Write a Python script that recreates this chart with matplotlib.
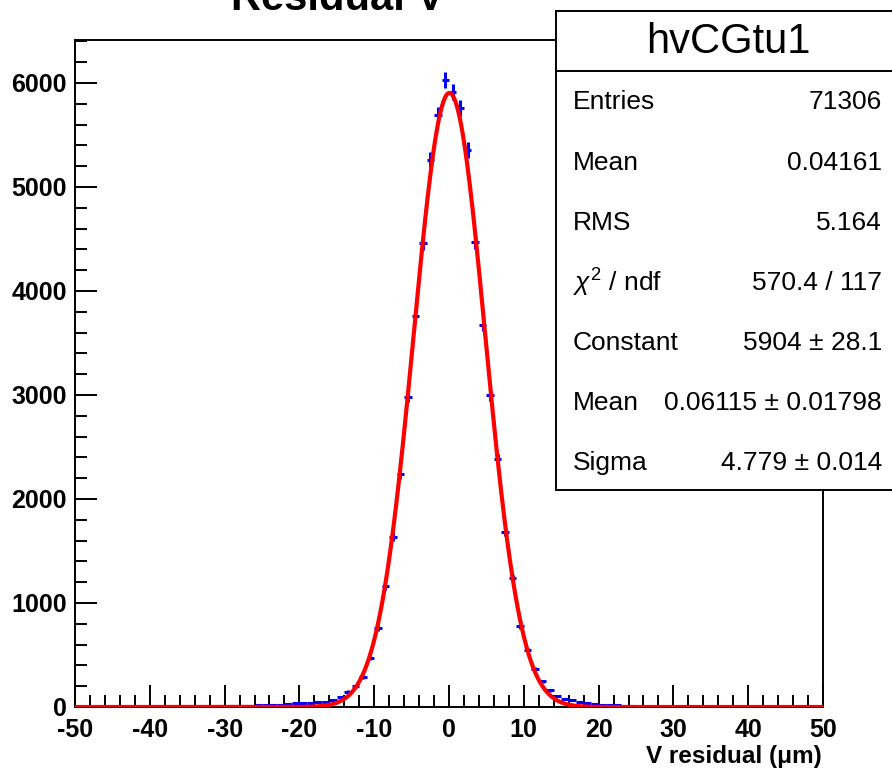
import numpy as np
import matplotlib
matplotlib.use('Agg')
import matplotlib.pyplot as plt
from matplotlib.patches import Rectangle
from matplotlib.lines import Line2D
from matplotlib.ticker import MultipleLocator

plt.rcParams['font.family'] = ['Liberation Sans', 'DejaVu Sans']
plt.rcParams['mathtext.fontset'] = 'custom'
plt.rcParams['mathtext.rm'] = 'Liberation Sans'
plt.rcParams['mathtext.it'] = 'Liberation Sans:italic'

# histogram bins (centre, content)
bin_centers = [-30.5, -29.5, -28.5, -27.5, -26.5, -25.5, -24.5, -23.5, -22.5, -21.5,
               -20.5, -19.5, -18.5, -17.5, -16.5, -15.5, -14.5, -13.5, -12.5, -11.5,
               -10.5, -9.5, -8.5, -7.5, -6.5, -5.5, -4.5, -3.5, -2.5, -1.5,
               -0.5, 0.5, 1.5, 2.5, 3.5, 4.5, 5.5, 6.5, 7.5, 8.5,
               9.5, 10.5, 11.5, 12.5, 13.5, 14.5, 15.5, 16.5, 17.5, 18.5,
               19.5, 20.5, 21.5, 22.5, 23.5, 24.5]
counts = [8, 10, 12, 10, 14, 15, 16, 18, 20, 25,
          38, 40, 42, 45, 48, 65, 95, 147, 200, 291,
          474, 762, 1163, 1638, 2237, 2984, 3760, 4460, 5260, 5692,
          6029, 5916, 5760, 5356, 4474, 3673, 3000, 2381, 1686, 1237,
          779, 548, 362, 247, 160, 106, 80, 70, 51, 40,
          25, 20, 18, 15, 12, 10]
bin_width = 1.0

# gaussian fit parameters (from the stats box)
fit_const = 5904
fit_mean = 0.06115
fit_sigma = 4.779

stat_labels = ['Entries', 'Mean', 'RMS', r'$\chi^{2}$ / ndf', 'Constant', 'Mean', 'Sigma']
stat_values = ['71306', '0.04161', '5.164', '570.4 / 117', u'5904 \u00b1 28.1',
               u'0.06115 \u00b1 0.01798', u'4.779 \u00b1 0.014']

W, H = 892, 773
fig = plt.figure(figsize=(W / 100, H / 100), dpi=100)
ax = fig.add_axes([75 / W, 1 - 707 / H, 748 / W, 667 / H])

x = np.array(bin_centers)
y = np.array(counts, dtype=float)
ax.errorbar(x, y, xerr=bin_width / 2, yerr=np.sqrt(y), fmt='none',
            ecolor='#0000ff', elinewidth=2.2, capsize=0, zorder=2)

xf = np.linspace(-50, 50, 1000)
yf = fit_const * np.exp(-0.5 * ((xf - fit_mean) / fit_sigma) ** 2)
ax.plot(xf, yf, color='#ff0000', lw=3, zorder=3, solid_capstyle='butt')

ax.set_xlim(-50, 50)
ax.set_ylim(0, 6413)
ax.xaxis.set_major_locator(MultipleLocator(10))
ax.xaxis.set_minor_locator(MultipleLocator(2))
ax.yaxis.set_major_locator(MultipleLocator(1000))
ax.yaxis.set_minor_locator(MultipleLocator(200))
ax.tick_params(which='both', direction='in', top=False, right=False, width=1.4, color='black')
ax.tick_params(which='major', length=15.5)
ax.tick_params(which='minor', length=8.5)
ax.tick_params(axis='x', which='major', pad=8, labelsize=18)
ax.tick_params(axis='y', which='major', pad=6, labelsize=18)
ax.xaxis.set_major_formatter(plt.FuncFormatter(lambda v, p: '%d' % v))
ax.yaxis.set_major_formatter(plt.FuncFormatter(lambda v, p: '%d' % v))
for lab in ax.get_xticklabels() + ax.get_yticklabels():
    lab.set_fontweight('bold')
for sp in ax.spines.values():
    sp.set_linewidth(1.4)

fig.text(822 / W, 1 - 757 / H, u'V residual (\u03bcm)', ha='right', va='center',
         fontsize=17.5, fontweight='bold')

# title, partly cut at the top edge
fig.text(338 / W, 1 - 10 / H, 'Residual V', ha='center', va='baseline',
         fontsize=30, fontweight='bold')

# stats box
box = Rectangle((556 / W, 1 - 490 / H), 345 / W, 479 / H, transform=fig.transFigure,
                facecolor='white', edgecolor='black', lw=1.4, zorder=10)
fig.add_artist(box)
fig.add_artist(Line2D([556 / W, 1.0], [1 - 70.5 / H] * 2, transform=fig.transFigure,
                      color='black', lw=1.4, zorder=11))
fig.text(728 / W, 1 - 42 / H, 'hvCGtu1', ha='center', va='center', fontsize=30, zorder=12)
row_y = [102, 163, 223, 283, 343, 403, 463]
for lab, val, ry in zip(stat_labels, stat_values, row_y):
    fig.text(573 / W, 1 - ry / H, lab, ha='left', va='center', fontsize=19, zorder=12)
    fig.text(882 / W, 1 - ry / H, val, ha='right', va='center', fontsize=19, zorder=12)

fig.savefig('out.png', dpi=100)
